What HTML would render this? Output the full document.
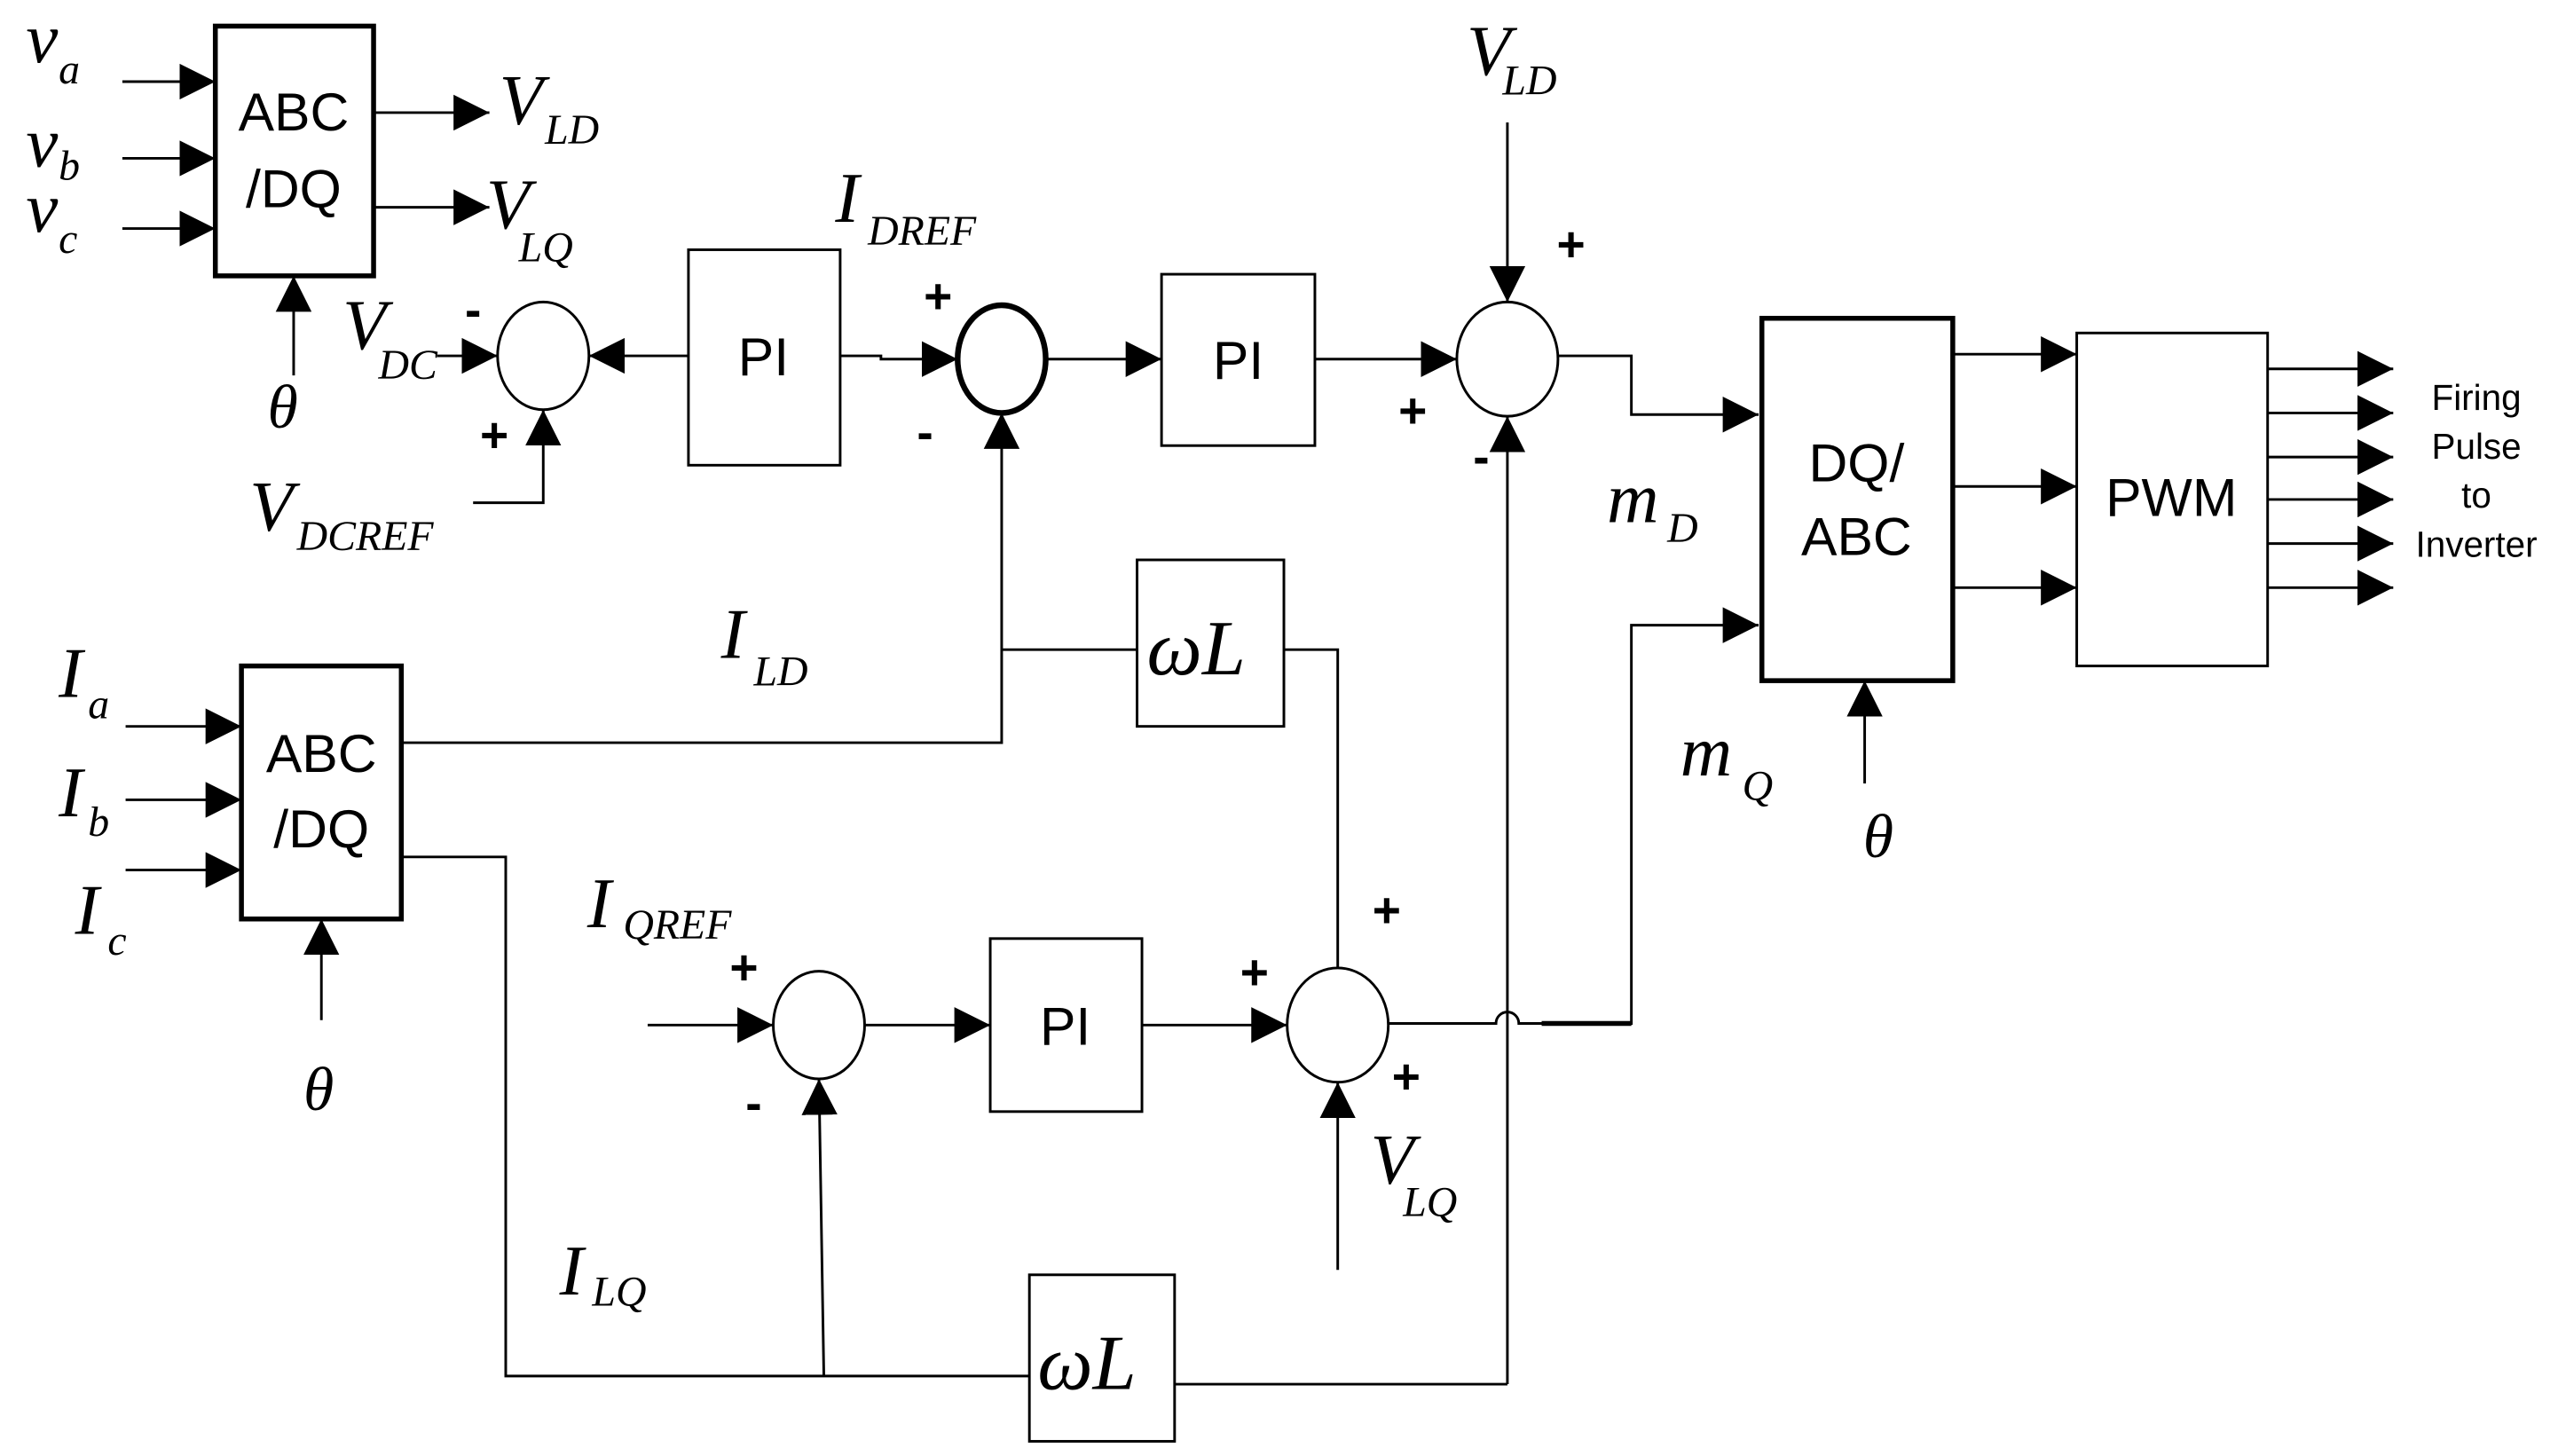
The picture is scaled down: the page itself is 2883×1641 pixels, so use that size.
<!DOCTYPE html>
<html><head><meta charset="utf-8"><style>html,body{margin:0;padding:0;background:#fff}svg{display:block}</style></head>
<body>
<svg width="2883" height="1641" viewBox="0 0 1568 892" preserveAspectRatio="none" xmlns="http://www.w3.org/2000/svg">
<defs>
<marker id="a" viewBox="0 0 10 10" refX="10" refY="5" markerWidth="22" markerHeight="22" markerUnits="userSpaceOnUse" orient="auto"><path d="M0,0L10,5L0,10z" fill="#000"/></marker>
</defs>
<g fill="none" stroke="#000" stroke-width="1.6">
<rect x="132" y="16" width="97" height="153" stroke-width="3"/>
<line x1="75" y1="50" x2="132" y2="50" marker-end="url(#a)"/>
<line x1="75" y1="97" x2="132" y2="97" marker-end="url(#a)"/>
<line x1="75" y1="140" x2="132" y2="140" marker-end="url(#a)"/>
<line x1="229" y1="69" x2="300" y2="69" marker-end="url(#a)"/>
<line x1="229" y1="127" x2="300" y2="127" marker-end="url(#a)"/>
<line x1="180" y1="230" x2="180" y2="169" marker-end="url(#a)"/>
<ellipse cx="333" cy="218" rx="28" ry="33"/>
<line x1="268" y1="218" x2="305" y2="218" marker-end="url(#a)"/>
<rect x="422" y="153" width="93" height="132"/>
<line x1="422" y1="218" x2="361" y2="218" marker-end="url(#a)"/>
<polyline points="290,308 333,308 333,251" marker-end="url(#a)"/>
<ellipse cx="614" cy="220" rx="27" ry="33" stroke-width="3.5"/>
<polyline points="515,218 540,218 540,220 587,220" marker-end="url(#a)"/>
<rect x="712" y="168" width="94" height="105"/>
<line x1="641" y1="220" x2="712" y2="220" marker-end="url(#a)"/>
<ellipse cx="924" cy="220" rx="31" ry="35"/>
<line x1="806" y1="220" x2="893" y2="220" marker-end="url(#a)"/>
<line x1="924" y1="75" x2="924" y2="185" marker-end="url(#a)"/>
<polyline points="955,218 1000,218 1000,254 1078,254" marker-end="url(#a)"/>
<rect x="1080" y="195" width="117" height="222" stroke-width="3"/>
<line x1="1197" y1="217" x2="1273" y2="217" marker-end="url(#a)"/>
<line x1="1197" y1="298" x2="1273" y2="298" marker-end="url(#a)"/>
<line x1="1197" y1="360" x2="1273" y2="360" marker-end="url(#a)"/>
<line x1="1143" y1="480" x2="1143" y2="417" marker-end="url(#a)"/>
<rect x="1273" y="204" width="117" height="204"/>
<line x1="1390" y1="226" x2="1467" y2="226" marker-end="url(#a)"/>
<line x1="1390" y1="253" x2="1467" y2="253" marker-end="url(#a)"/>
<line x1="1390" y1="280" x2="1467" y2="280" marker-end="url(#a)"/>
<line x1="1390" y1="306" x2="1467" y2="306" marker-end="url(#a)"/>
<line x1="1390" y1="333" x2="1467" y2="333" marker-end="url(#a)"/>
<line x1="1390" y1="360" x2="1467" y2="360" marker-end="url(#a)"/>
<line x1="924" y1="848" x2="924" y2="255" marker-end="url(#a)"/>
<rect x="148" y="408" width="98" height="155" stroke-width="3"/>
<line x1="77" y1="445" x2="148" y2="445" marker-end="url(#a)"/>
<line x1="77" y1="490" x2="148" y2="490" marker-end="url(#a)"/>
<line x1="77" y1="533" x2="148" y2="533" marker-end="url(#a)"/>
<line x1="197" y1="625" x2="197" y2="563" marker-end="url(#a)"/>
<polyline points="246,455 614,455 614,253" marker-end="url(#a)"/>
<rect x="697" y="343" width="90" height="102"/>
<line x1="614" y1="398" x2="697" y2="398"/>
<polyline points="787,398 820,398 820,593"/>
<ellipse cx="820" cy="628" rx="31" ry="35"/>
<line x1="700" y1="628" x2="789" y2="628" marker-end="url(#a)"/>
<line x1="820" y1="778" x2="820" y2="663" marker-end="url(#a)"/>
<path d="M851,627 L917,627 A7,7 0 0 1 931,627 L1000,627 L1000,383 L1078,383" marker-end="url(#a)"/>
<line x1="945" y1="627" x2="1000" y2="627" stroke-width="3"/>
<ellipse cx="502" cy="628" rx="28" ry="33"/>
<line x1="397" y1="628" x2="474" y2="628" marker-end="url(#a)"/>
<rect x="607" y="575" width="93" height="106"/>
<line x1="530" y1="628" x2="607" y2="628" marker-end="url(#a)"/>
<polyline points="246,525 310,525 310,843 631,843"/>
<line x1="505" y1="843" x2="502" y2="661" marker-end="url(#a)"/>
<rect x="631" y="781" width="89" height="102"/>
<line x1="720" y1="848" x2="924" y2="848"/>
</g>
<g font-family="'Liberation Sans',sans-serif" font-size="33" text-anchor="middle" fill="#000">
<text x="180" y="80">ABC</text><text x="180" y="127">/DQ</text>
<text x="197" y="473">ABC</text><text x="197" y="519">/DQ</text>
<text x="468" y="230">PI</text><text x="759" y="232">PI</text><text x="653" y="640">PI</text>
<text x="1138" y="295">DQ/</text><text x="1138" y="340">ABC</text>
<text x="1331" y="316">PWM</text>
<g font-size="22"><text x="1518" y="251">Firing</text><text x="1518" y="281">Pulse</text><text x="1518" y="311">to</text><text x="1518" y="341">Inverter</text></g>
<g font-size="30" font-weight="bold"><text x="290" y="200">-</text><text x="303" y="277">+</text><text x="575" y="192">+</text><text x="567" y="275">-</text>
<text x="963" y="160">+</text><text x="866" y="262">+</text><text x="908" y="290">-</text>
<text x="456" y="603">+</text><text x="462" y="686">-</text><text x="769" y="606">+</text><text x="850" y="568">+</text><text x="862" y="670">+</text></g>
</g>
<g font-family="'Liberation Serif',serif" font-style="italic" fill="#000">
<g font-size="44">
<text x="16" y="38">v</text><text x="16" y="102">v</text><text x="16" y="142">v</text>
<text x="306" y="76">V</text><text x="298" y="140">V</text>
<text x="512" y="136">I</text><text x="210" y="214">V</text><text x="153" y="325">V</text>
<text x="899" y="46">V</text>
<text x="36" y="427">I</text><text x="36" y="500">I</text><text x="46" y="572">I</text>
<text x="442" y="403">I</text><text x="360" y="568">I</text><text x="343" y="793">I</text>
<text x="840" y="725">V</text>
<text x="985" y="320">m</text><text x="1030" y="475">m</text>
</g>
<g font-size="26">
<text x="36" y="51">a</text><text x="36" y="110">b</text><text x="36" y="155">c</text>
<text x="334" y="88">LD</text><text x="318" y="160">LQ</text>
<text x="532" y="150">DREF</text><text x="232" y="232">DC</text><text x="182" y="337">DCREF</text>
<text x="921" y="58">LD</text>
<text x="54" y="440">a</text><text x="54" y="512">b</text><text x="66" y="585">c</text>
<text x="462" y="420">LD</text><text x="382" y="575">QREF</text><text x="363" y="800">LQ</text>
<text x="860" y="745">LQ</text>
<text x="1022" y="332">D</text><text x="1068" y="490">Q</text>
</g>
<g font-size="38"><text x="164" y="262">θ</text><text x="186" y="680">θ</text><text x="1142" y="525">θ</text></g>
<g font-size="48" font-style="italic"><text x="703" y="413">ωL</text><text x="636" y="851">ωL</text></g>
</g>
</svg>
</body></html>
